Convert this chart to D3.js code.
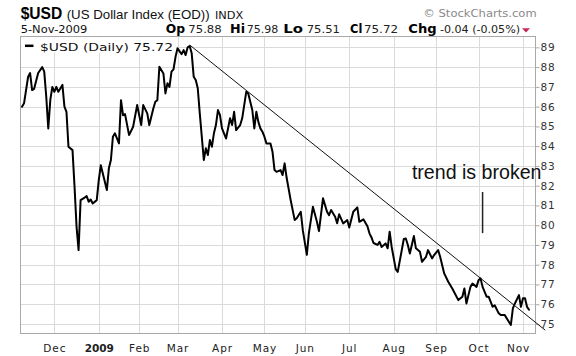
<!DOCTYPE html>
<html><head><meta charset="utf-8">
<script src="https://cdn.jsdelivr.net/npm/d3@7"></script>
<style>html,body{margin:0;padding:0;background:#fff;}svg{display:block;}</style>
</head><body>
<svg id="chart" width="576" height="356"></svg>
<script>
// ---------- data ----------
const dates = [
"2008-11-06","2008-11-07","2008-11-11","2008-11-12","2008-11-13","2008-11-14","2008-11-18","2008-11-20","2008-11-21","2008-11-24",
"2008-11-25","2008-11-26","2008-11-28","2008-12-01","2008-12-02","2008-12-03","2008-12-05","2008-12-08","2008-12-09","2008-12-10",
"2008-12-12","2008-12-15","2008-12-16","2008-12-17","2008-12-18","2008-12-22","2008-12-23","2008-12-24","2008-12-26","2008-12-29",
"2008-12-31","2009-01-02","2009-01-05","2009-01-06","2009-01-08","2009-01-09","2009-01-12","2009-01-13","2009-01-14","2009-01-16",
"2009-01-20","2009-01-21","2009-01-22","2009-01-26","2009-01-28","2009-01-30","2009-02-03","2009-02-04","2009-02-06","2009-02-09",
"2009-02-11","2009-02-12","2009-02-13","2009-02-17","2009-02-19","2009-02-20","2009-02-23","2009-02-24","2009-02-25","2009-02-26",
"2009-02-27","2009-03-02","2009-03-04","2009-03-05","2009-03-06","2009-03-09","2009-03-10","2009-03-11","2009-03-12","2009-03-13",
"2009-03-16","2009-03-17","2009-03-19","2009-03-20","2009-03-23","2009-03-24","2009-03-25","2009-03-26","2009-03-27","2009-03-30",
"2009-03-31","2009-04-01","2009-04-03","2009-04-07","2009-04-08","2009-04-09","2009-04-13","2009-04-15","2009-04-16","2009-04-20",
"2009-04-21","2009-04-23","2009-04-24","2009-04-27","2009-04-28","2009-04-29","2009-04-30","2009-05-01","2009-05-04","2009-05-06",
"2009-05-07","2009-05-08","2009-05-11","2009-05-13","2009-05-14","2009-05-15","2009-05-18","2009-05-20","2009-05-22","2009-05-26",
"2009-05-28","2009-05-29","2009-06-02","2009-06-03","2009-06-05","2009-06-09","2009-06-10","2009-06-12","2009-06-16","2009-06-17",
"2009-06-18","2009-06-22","2009-06-23","2009-06-24","2009-06-26","2009-06-30","2009-07-01","2009-07-06","2009-07-08","2009-07-09",
"2009-07-13","2009-07-15","2009-07-16","2009-07-17","2009-07-20","2009-07-22","2009-07-23","2009-07-24","2009-07-28","2009-07-29",
"2009-07-30","2009-07-31","2009-08-04","2009-08-05","2009-08-07","2009-08-10","2009-08-11","2009-08-12","2009-08-13","2009-08-17",
"2009-08-18","2009-08-20","2009-08-21","2009-08-25","2009-08-26","2009-08-28","2009-08-31","2009-09-02","2009-09-03","2009-09-08",
"2009-09-10","2009-09-14","2009-09-17","2009-09-21","2009-09-22","2009-09-23","2009-09-25","2009-09-28","2009-09-30","2009-10-01",
"2009-10-02","2009-10-05","2009-10-07","2009-10-08","2009-10-12","2009-10-13","2009-10-15","2009-10-16","2009-10-20","2009-10-21",
"2009-10-23","2009-10-26","2009-10-27","2009-10-29","2009-10-30","2009-11-02","2009-11-03","2009-11-04","2009-11-05"
];
const closes = [
86.0,86.17,87.5,87.7,86.84,86.9,87.7,88.0,87.77,86.5,
84.9,86.33,87.0,86.75,87.0,86.75,87.1,86.0,85.74,83.97,
83.8,81.95,79.92,78.74,81.27,81.4,81.47,81.19,81.3,81.1,
81.27,82.28,83.04,82.62,81.78,82.88,83.3,84.48,84.65,84.14,
86.33,85.57,85.62,84.56,84.98,86.08,85.07,86.08,85.66,85.07,
85.91,86.25,86.33,88.02,87.68,86.67,87.18,87.0,87.77,87.89,
88.52,88.95,88.66,88.86,88.61,89.0,89.07,88.7,87.51,87.35,
86.93,85.66,83.3,83.89,83.55,84.31,83.97,84.65,85.07,85.83,
85.57,84.9,84.39,85.41,85.07,85.74,84.81,85.07,85.41,86.75,
86.67,85.83,84.9,85.74,85.23,84.9,84.73,84.48,84.14,84.14,
83.72,82.79,82.7,82.79,82.54,83.13,82.4,81.27,80.26,80.35,
80.68,79.75,78.5,79.59,80.93,80.17,79.7,81.36,80.68,80.51,
80.77,80.43,80.1,80.55,80.09,80.26,79.88,80.68,80.9,80.17,
80.3,79.95,79.59,79.38,79.1,79.0,79.16,78.9,79.08,78.83,
79.67,78.9,77.78,77.64,78.74,79.3,79.33,79.0,78.57,79.45,
78.83,78.66,78.15,78.4,78.74,78.32,78.49,78.74,78.4,77.56,
77.14,76.8,76.21,76.38,76.8,76.04,76.88,77.05,76.88,77.22,
77.31,76.88,76.38,76.38,75.87,75.95,75.54,75.45,75.45,75.28,
74.95,75.79,76.04,76.46,75.87,76.3,76.3,75.87,75.72
];
const holidays = ["2008-11-27","2008-12-25","2009-01-01","2009-01-19","2009-02-16","2009-04-10",
                  "2009-05-25","2009-07-03","2009-09-07","2009-11-26"];
const calendarRange = ["2008-11-06","2009-11-30"];
const yTicks = [75,76,77,78,79,80,81,82,83,84,85,86,87,88,89];
const monthTickDates = ["2008-12-01","2009-01-02","2009-02-02","2009-03-02","2009-04-01","2009-05-01",
                        "2009-06-01","2009-07-01","2009-08-03","2009-09-01","2009-10-01","2009-11-02"];
const monthTickLabels = ["Dec","2009","Feb","Mar","Apr","May","Jun","Jul","Aug","Sep","Oct","Nov"];
const trendDates = ["2009-03-10","2009-11-17"];
const trendValues = [89.12, 74.69];
const noteText = "trend is broken";
const noteDate = "2009-08-14";
const noteValue = 82.33;
const markDate = "2009-10-05";
const markValues = [81.68, 79.6];
const symbolText = "$USD";
const nameText = "(US Dollar Index (EOD))";
const exchangeText = "INDX";
const dateText = "5-Nov-2009";
const statLabels = ["Op","Hi","Lo","Cl","Chg"];
const statValues = ["75.88","75.98","75.51","75.72","-0.04 (-0.05%)"];
const legendText = "$USD (Daily) 75.72";
const creditText = "\u00A9 StockCharts.com";

// ---------- calendar of trading days ----------
const parse = d3.utcParse("%Y-%m-%d");
const fmt = d3.utcFormat("%Y-%m-%d");
const holidaySet = new Set(holidays);
const tradingDays = d3.utcDay.range(parse(calendarRange[0]), d3.utcDay.offset(parse(calendarRange[1]), 1))
  .filter(d => d.getUTCDay() !== 0 && d.getUTCDay() !== 6 && !holidaySet.has(fmt(d)));
const dayIndex = new Map(tradingDays.map((d, i) => [fmt(d), i]));
const idx = s => dayIndex.get(s);

// ---------- layout ----------
const svg = d3.select("#chart");
const L = 20.5, R = 535.5, T = 36.5, B = 333.5;
const x = d3.scaleLinear().domain([-0.75, 254.2]).range([L, R]);
const y = d3.scaleLinear().domain([74.52, 89.55]).range([B, T]);

const SANS = "'DejaVu Sans', Verdana, sans-serif";
const ARIAL = "'Liberation Sans', Arial, sans-serif";

function txt(g, xp, yp, s, o) {
  const t = g.append("text").attr("x", xp).attr("y", yp).text(s)
    .attr("font-family", o.family || SANS)
    .attr("font-size", o.size || 11)
    .attr("font-weight", o.weight || "normal")
    .attr("fill", o.fill || "#111");
  if (o.width) t.attr("textLength", o.width).attr("lengthAdjust", "spacingAndGlyphs");
  if (o.anchor) t.attr("text-anchor", o.anchor);
  return t;
}

// grid
const grid = svg.append("g").attr("stroke", "#dadada").attr("stroke-width", 1).attr("shape-rendering", "crispEdges");
grid.selectAll("line.h").data(yTicks).join("line")
  .attr("x1", L).attr("x2", R).attr("y1", d => Math.round(y(d)) + 0.5).attr("y2", d => Math.round(y(d)) + 0.5);
grid.selectAll("line.v").data(monthTickDates).join("line")
  .attr("y1", T).attr("y2", B).attr("x1", d => Math.round(x(idx(d))) + 0.5).attr("x2", d => Math.round(x(idx(d))) + 0.5);

// right axis
const yAxis = d3.axisRight(y).tickValues(yTicks).tickSize(4).tickPadding(1).tickFormat(d3.format("d"));
const ya = svg.append("g").attr("transform", `translate(${R},0)`).call(yAxis);
ya.select(".domain").remove();
ya.selectAll(".tick line").attr("stroke", "#a8a8a8");
ya.selectAll(".tick text").attr("font-family", SANS).attr("font-size", 10.5).attr("fill", "#333")
  .attr("letter-spacing", "0.8px");

// bottom axis
const xAxis = d3.axisBottom(x).tickValues(monthTickDates.map(idx)).tickSize(0).tickPadding(0)
  .tickFormat((d, i) => monthTickLabels[i]);
const xa = svg.append("g").attr("transform", `translate(0,${B})`).call(xAxis);
xa.select(".domain").remove();
xa.selectAll(".tick text").attr("font-family", SANS).attr("font-size", 10.5).attr("fill", "#222")
  .attr("dy", null).attr("y", 18.5).attr("letter-spacing", "0.9px")
  .attr("font-weight", (d, i) => monthTickLabels[i] === "2009" ? "bold" : "normal")
  .attr("letter-spacing", (d, i) => monthTickLabels[i] === "2009" ? "0px" : "0.9px")
  .attr("dx", (d, i) => i === monthTickLabels.length - 1 ? -5 : 0);

// frame
svg.append("rect").attr("x", L).attr("y", T).attr("width", R - L).attr("height", B - T)
  .attr("fill", "none").attr("stroke", "#a8a8a8").attr("shape-rendering", "crispEdges");

// legend background + legend
svg.append("rect").attr("x", L + 1).attr("y", T + 1).attr("width", 155).attr("height", 15).attr("fill", "#fff");
svg.append("line").attr("x1", 25).attr("x2", 33.5).attr("y1", 45.8).attr("y2", 45.8)
  .attr("stroke", "#000").attr("stroke-width", 2.5);
txt(svg, 40, 50.5, legendText, {size: 11, width: 133, fill: "#111"});

// price line
const series = dates.map((d, i) => ({i: idx(d), v: closes[i]}));
svg.append("path").datum(series)
  .attr("fill", "none").attr("stroke", "#000").attr("stroke-width", 2)
  .attr("stroke-linejoin", "round").attr("stroke-linecap", "round")
  .attr("d", d3.line().x(d => x(d.i)).y(d => y(d.v)));

// trend line
svg.append("line")
  .attr("x1", x(idx(trendDates[0]))).attr("y1", y(trendValues[0]))
  .attr("x2", x(idx(trendDates[1]))).attr("y2", y(trendValues[1]))
  .attr("stroke", "#111").attr("stroke-width", 1);

// annotation
txt(svg, x(idx(noteDate)), y(noteValue), noteText, {family: ARIAL, size: 19.6, fill: "#111"});
svg.append("line")
  .attr("x1", x(idx(markDate))).attr("x2", x(idx(markDate)))
  .attr("y1", y(markValues[0])).attr("y2", y(markValues[1]))
  .attr("stroke", "#222").attr("stroke-width", 1.5);

// header
txt(svg, 20.7, 18.5, symbolText, {family: ARIAL, size: 16, weight: "bold", width: 41.6, fill: "#000"});
txt(svg, 66.7, 18.5, nameText, {family: ARIAL, size: 13, width: 143, fill: "#111"});
txt(svg, 215, 18.5, exchangeText, {size: 10.5, width: 28.3, fill: "#111"});
txt(svg, 423.3, 16.7, creditText, {size: 11, width: 113.4, fill: "#8a8a8a"});
txt(svg, 20.7, 33.3, dateText, {size: 10, width: 66.7, fill: "#111"});

const labelPos = [[165.7, 19.3], [230, 15], [283.3, 19.7], [350, 12.3], [408.3, 28.4]];
const valuePos = [[188.3, 33.4], [246.7, 31.6], [306.7, 33.3], [364, 34], [440, 80]];
statLabels.forEach((s, i) => txt(svg, labelPos[i][0], 33.3, s, {size: 11.5, weight: "bold", width: labelPos[i][1], fill: "#000"}));
statValues.forEach((s, i) => txt(svg, valuePos[i][0], 33.3, s, {size: 10, width: valuePos[i][1], fill: "#222"}));
svg.append("path").attr("d", "M522,28.3 L530,28.3 L526,32.5 Z").attr("fill", "#c8285a");
</script>
</body></html>
